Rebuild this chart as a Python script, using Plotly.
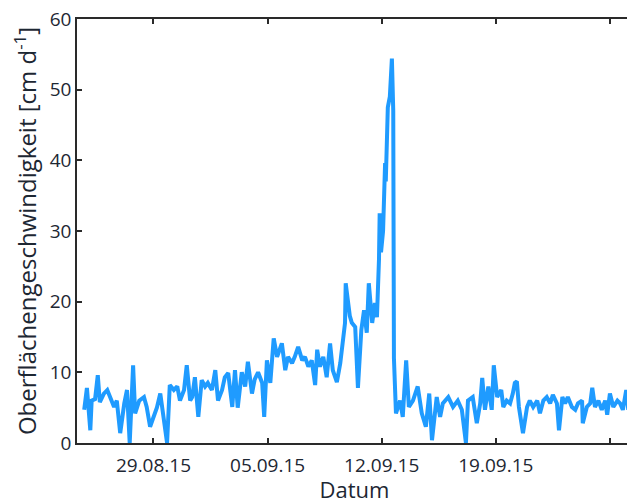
import pandas as pd
import plotly.graph_objects as go

# hours since 2015-08-24 00:00 and surface velocity [cm/d]
hours = [18, 22, 27, 29, 34, 38, 41, 47, 52, 56, 62, 66, 71, 77, 81, 85, 90, 93, 99, 106,
         110, 115, 121, 125, 130, 135, 140, 144, 150, 155, 159, 165, 169, 174, 177, 181, 186, 191, 196, 200,
         206, 211, 215, 221, 225, 230, 236, 240, 244, 250, 255, 259, 265, 269, 274, 280, 283, 287, 292, 297,
         302, 309, 314, 318, 324, 328, 333, 339, 343, 348, 353, 358, 361, 365, 370, 375, 380, 384, 390, 395,
         399, 402, 403, 406, 409, 412, 417, 421, 426, 430, 434, 437, 442, 446, 449, 452, 453, 455, 458, 461,
         462, 465, 468, 471, 473, 474, 477, 483, 487, 492, 496, 502, 509, 515, 521, 526, 530, 537, 542, 546,
         554, 561, 568, 574, 580, 583, 590, 596, 601, 604, 608, 613, 618, 621, 626, 632, 635, 640, 645, 649,
         652, 655, 658, 664, 670, 674, 679, 685, 689, 694, 699, 704, 708, 714, 717, 722, 726, 730, 736, 741,
         745, 751, 752, 758, 763, 766, 770, 775, 780, 785, 788, 792, 797, 803, 807, 811, 816, 819]
velocity = [4.7, 7.8, 1.8, 6.0, 6.2, 9.6, 5.8, 7.0, 7.5, 6.5, 5.1, 6.0, 1.4, 5.6, 7.5, 0.0, 11.0, 4.2, 6.0, 6.5,
            5.1, 2.3, 3.7, 5.0, 7.0, 3.2, 0.0, 8.2, 7.5, 8.0, 6.0, 7.5, 11.0, 6.0, 6.5, 9.3, 3.7, 8.9, 8.0, 8.5,
            7.5, 10.3, 6.0, 7.5, 9.3, 9.9, 5.1, 10.3, 5.0, 10.0, 8.0, 11.5, 7.0, 9.0, 10.0, 8.5, 3.7, 11.7, 8.5, 14.8,
            12.2, 14.1, 10.3, 12.2, 11.3, 12.2, 13.6, 11.7, 12.2, 10.8, 11.7, 8.2, 13.2, 10.8, 12.2, 9.3, 14.1, 10.3, 8.6, 11.3,
            14.1, 17.0, 22.6, 20.2, 18.0, 17.0, 16.4, 7.8, 16.0, 18.8, 15.6, 22.6, 17.0, 19.8, 17.8, 26.0, 32.5, 27.0, 30.0, 39.6,
            37.0, 47.5, 49.0, 54.4, 47.0, 12.0, 4.2, 6.0, 3.7, 11.7, 5.1, 6.0, 8.0, 4.2, 2.3, 7.0, 0.4, 6.5, 3.7, 5.6,
            6.5, 5.1, 6.0, 4.7, 0.0, 6.0, 6.5, 2.8, 5.6, 9.2, 4.7, 8.0, 4.7, 11.0, 6.5, 7.5, 5.1, 6.0, 5.6, 7.0,
            8.5, 8.7, 5.1, 1.4, 5.1, 6.0, 5.1, 6.0, 4.2, 6.0, 6.5, 5.6, 6.8, 5.6, 1.8, 6.5, 5.6, 6.5, 5.1, 4.7,
            5.6, 6.0, 2.8, 5.1, 5.6, 7.8, 5.1, 6.0, 4.7, 6.0, 4.0, 7.0, 5.1, 6.0, 5.6, 4.7, 7.5, 4.7]

tick_dates = ["2015-08-29", "2015-09-05", "2015-09-12", "2015-09-19", "2015-09-26"]
tick_labels = ["29.08.15", "05.09.15", "12.09.15", "19.09.15", ""]
y_ticks = [0, 10, 20, 30, 40, 50, 60]

start = pd.Timestamp("2015-08-24 00:00")
times = [start + pd.Timedelta(hours=h) for h in hours]

text_color = "#1d2733"
axis_color = "#2a2a2a"
font_family = "Open Sans, Noto Sans, sans-serif"

fig = go.Figure()
fig.add_trace(go.Scatter(x=times, y=velocity, mode="lines",
                         line=dict(color="#1f9bff", width=4), showlegend=False))

fig.update_layout(
    width=627, height=496,
    margin=dict(l=69, r=3, t=11, b=61, autoexpand=False),
    paper_bgcolor="white", plot_bgcolor="white",
    font=dict(family=font_family, color=text_color, size=18),
)
fig.update_xaxes(
    range=[start + pd.Timedelta(hours=7.4), start + pd.Timedelta(hours=824.5)],
    tickvals=tick_dates, ticktext=tick_labels,
    ticks="inside", ticklen=5, tickwidth=1.5, tickcolor=axis_color,
    showline=True, linecolor=axis_color, linewidth=1.5, mirror="ticks",
    showgrid=False, zeroline=False, automargin=False,
    tickfont=dict(size=19, color=text_color), ticklabelstandoff=4,
    ticklabeloverflow="allow",
    title=dict(text="Datum", font=dict(size=22, color=text_color), standoff=12),
)
fig.update_yaxes(
    range=[0, 60], tickvals=y_ticks,
    ticks="inside", ticklen=5, tickwidth=1.5, tickcolor=axis_color,
    showline=True, linecolor=axis_color, linewidth=1.5, mirror="ticks",
    showgrid=False, zeroline=False, automargin=False,
    tickfont=dict(size=19, color=text_color), ticklabeloverflow="allow",
    title=dict(text="Oberflächengeschwindigkeit [cm d<sup>-1</sup>]",
               font=dict(size=24, color=text_color), standoff=12),
)

fig.write_html("out.html")
